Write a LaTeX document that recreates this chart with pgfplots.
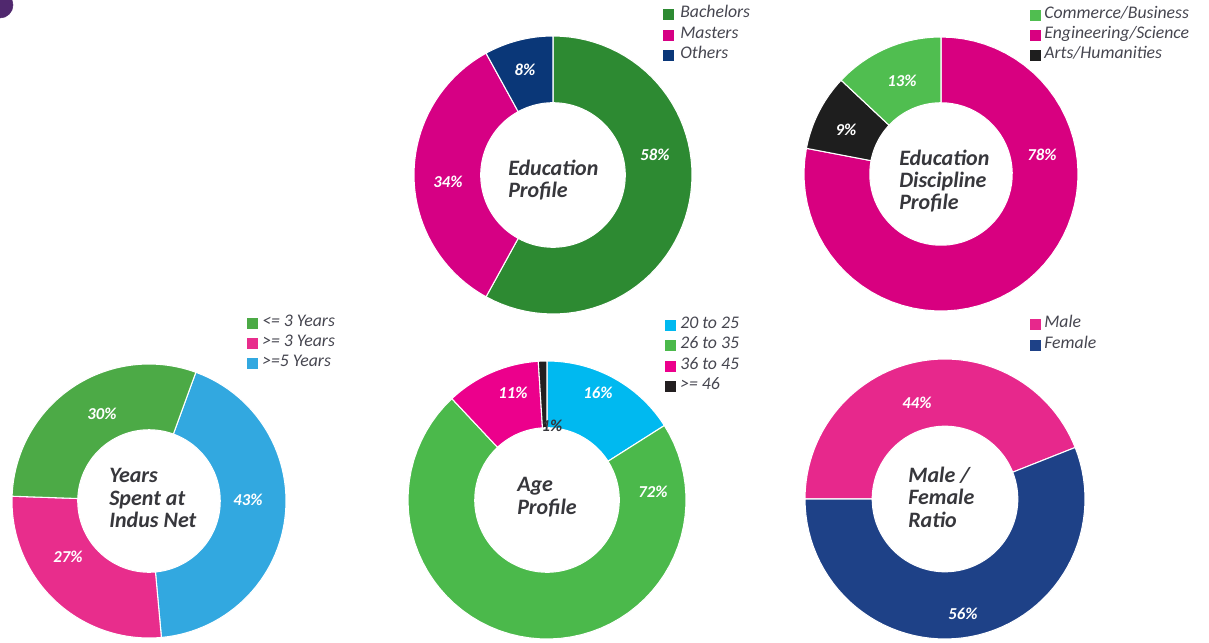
\documentclass[border=0pt]{standalone}
\usepackage{fontspec}
\setmainfont{Carlito}
\usepackage{pgfplots}
\pgfplotsset{compat=1.18}

\definecolor{eduGreen}{RGB}{45,138,50}
\definecolor{eduMag}{RGB}{214,0,132}
\definecolor{eduNavy}{RGB}{10,55,120}
\definecolor{disGreen}{RGB}{80,190,80}
\definecolor{disMag}{RGB}{216,0,128}
\definecolor{disBlack}{RGB}{30,30,30}
\definecolor{yrGreen}{RGB}{76,170,70}
\definecolor{yrPink}{RGB}{232,45,140}
\definecolor{yrBlue}{RGB}{50,168,224}
\definecolor{agBlue}{RGB}{0,185,240}
\definecolor{agGreen}{RGB}{75,185,75}
\definecolor{agPink}{RGB}{236,0,140}
\definecolor{agBlack}{RGB}{35,31,32}
\definecolor{mfPink}{RGB}{231,40,140}
\definecolor{mfNavy}{RGB}{30,65,135}
\definecolor{deco}{RGB}{80,40,110}
\definecolor{legtext}{RGB}{70,70,80}
\definecolor{ctrtext}{RGB}{55,55,60}

\def\rr{0.52}
% #1 cx, #2 cy, #3 radius, #4 start angle (deg, clockwise from top), #5 from %, #6 to %, #7 colour
\newcommand{\slice}[7]{%
  \addplot[fill=#7, draw=white, line width=0.8pt, variable=\t,
    samples at={0,1,...,60,100,101,...,160}]
  ({#1 + (1-(1-\rr)*(\t>80))*#3*sin(#4+3.6*(#5+min(\t,160-\t)/60*(#6-#5)))},
   {#2 - (1-(1-\rr)*(\t>80))*#3*cos(#4+3.6*(#5+min(\t,160-\t)/60*(#6-#5)))}) -- cycle;
}
\newcommand{\legsq}[3]{%
  \addplot[only marks, mark=square*, mark size=3.6pt, color=#3] coordinates {(#1,#2)};
}

\tikzset{
  pct/.style={font=\bfseries\itshape\fontsize{12.5}{14}\selectfont, text=white},
  leg/.style={anchor=west, inner sep=0pt, text height=0.72em, text depth=0.2em,
              font=\itshape\fontsize{13.3}{14}\selectfont, text=legtext},
  ctr/.style={anchor=west, align=left, inner sep=0pt,
              font=\bfseries\itshape\fontsize{16.5}{16.8}\selectfont, text=ctrtext},
}

\begin{document}
\begin{tikzpicture}
\begin{axis}[
  width=906.75pt, height=481.5pt, scale only axis,
  xmin=0, xmax=1209, ymin=0, ymax=642, y dir=reverse,
  axis lines=none, ticks=none, clip=true,
]
% decoration
\addplot[only marks, mark=*, mark size=9.75pt, color=deco] coordinates {(0,5)};

% Education Profile
\slice{553}{175}{139}{0}{0}{58}{eduGreen}
\slice{553}{175}{139}{0}{58}{92}{eduMag}
\slice{553}{175}{139}{0}{92}{100}{eduNavy}
\node[pct] at (655,155) {58\%};
\node[pct] at (448,182) {34\%};
\node[pct] at (525,70) {8\%};
\node[ctr] at (508,180) {Education\\Profile};
\legsq{668}{14}{eduGreen}
\legsq{668}{35}{eduMag}
\legsq{668}{55}{eduNavy}
\node[leg] at (680,14) {Bachelors};
\node[leg] at (680,35) {Masters};
\node[leg] at (680,55) {Others};

% Education Discipline Profile
\slice{941}{174}{137}{0}{0}{78}{disMag}
\slice{941}{174}{137}{0}{78}{87}{disBlack}
\slice{941}{174}{137}{0}{87}{100}{disGreen}
\node[pct] at (1042,155) {78\%};
\node[pct] at (846,130) {9\%};
\node[pct] at (902,81) {13\%};
\node[ctr] at (899,181) {Education\\Discipline\\Profile};
\legsq{1035}{15}{disGreen}
\legsq{1035}{35}{disMag}
\legsq{1035}{55}{disBlack}
\node[leg] at (1044,15) {Commerce/Business};
\node[leg] at (1044,35) {Engineering/Science};
\node[leg] at (1044,55) {Arts/Humanities};

% Years Spent at Indus Net
\slice{149}{501}{137}{20}{0}{43}{yrBlue}
\slice{149}{501}{137}{20}{43}{70}{yrPink}
\slice{149}{501}{137}{20}{70}{100}{yrGreen}
\node[pct] at (102,414) {30\%};
\node[pct] at (248,500) {43\%};
\node[pct] at (68,557) {27\%};
\node[ctr] at (109,498) {Years\\Spent at\\Indus Net};
\legsq{252}{323}{yrGreen}
\legsq{252}{343}{yrPink}
\legsq{252}{363}{yrBlue}
\node[leg] at (262,323) {<= 3 Years};
\node[leg] at (262,343) {>= 3 Years};
\node[leg] at (262,363) {>=5 Years};

% Age Profile
\slice{547}{500}{139}{0}{0}{16}{agBlue}
\slice{547}{500}{139}{0}{16}{88}{agGreen}
\slice{547}{500}{139}{0}{88}{99}{agPink}
\slice{547}{500}{139}{0}{99}{100}{agBlack}
\node[pct] at (598,393) {16\%};
\node[pct] at (653,492) {72\%};
\node[pct] at (513,393) {11\%};
\node[pct, text=ctrtext] at (552,426) {1\%};
\node[ctr] at (517,497) {Age\\Profile};
\legsq{670}{325}{agBlue}
\legsq{670}{345}{agGreen}
\legsq{670}{366}{agPink}
\legsq{670}{386}{agBlack}
\node[leg] at (680,325) {20 to 25};
\node[leg] at (680,345) {26 to 35};
\node[leg] at (680,366) {36 to 45};
\node[leg] at (680,386) {>= 46};

% Male / Female Ratio
\slice{945}{499}{140}{270}{0}{44}{mfPink}
\slice{945}{499}{140}{270}{44}{100}{mfNavy}
\node[pct] at (917,403) {44\%};
\node[pct] at (963,614) {56\%};
\node[ctr] at (908,497) {Male /\\Female\\Ratio};
\legsq{1035}{324}{mfPink}
\legsq{1035}{345}{mfNavy}
\node[leg] at (1044,324) {Male};
\node[leg] at (1044,345) {Female};
\end{axis}
\pgfresetboundingbox
\path[use as bounding box] (current axis.south west) rectangle (current axis.north east);
\end{tikzpicture}
\end{document}
